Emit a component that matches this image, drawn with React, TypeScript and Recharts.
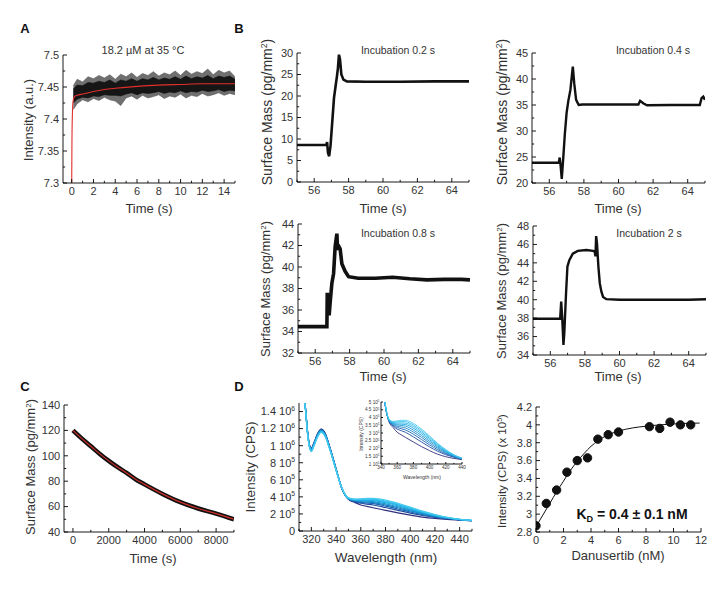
import React from "react";
import { ComposedChart, Line, Area, XAxis, YAxis } from "recharts";

// ── Panel A: stopped-flow trace ──────────────────────────────
const aTime = [0.15, 0.5, 1, 1.5, 2, 2.5, 3, 3.5, 4, 4.5, 5, 5.5, 6, 6.5, 7, 7.5, 8, 8.5, 9, 9.5, 10, 10.5, 11, 11.5, 12, 12.5, 13, 13.5, 14, 14.5, 15];
const aHigh = [7.452, 7.462, 7.458, 7.466, 7.463, 7.468, 7.464, 7.469, 7.462, 7.47, 7.466, 7.472, 7.465, 7.471, 7.468, 7.474, 7.467, 7.472, 7.469, 7.475, 7.468, 7.476, 7.47, 7.474, 7.471, 7.478, 7.469, 7.476, 7.472, 7.475, 7.466];
const aLow = [7.415, 7.424, 7.43, 7.427, 7.432, 7.429, 7.434, 7.43, 7.428, 7.421, 7.433, 7.436, 7.431, 7.437, 7.433, 7.435, 7.438, 7.432, 7.436, 7.434, 7.439, 7.433, 7.437, 7.435, 7.44, 7.436, 7.438, 7.441, 7.437, 7.44, 7.438];
const aCoreHigh = [7.447, 7.453, 7.452, 7.457, 7.456, 7.459, 7.457, 7.461, 7.456, 7.461, 7.459, 7.463, 7.459, 7.463, 7.461, 7.465, 7.461, 7.464, 7.462, 7.466, 7.462, 7.467, 7.463, 7.466, 7.464, 7.468, 7.463, 7.467, 7.465, 7.467, 7.462];
const aCoreLow = [7.425, 7.431, 7.434, 7.433, 7.436, 7.435, 7.438, 7.437, 7.437, 7.436, 7.439, 7.441, 7.438, 7.441, 7.44, 7.441, 7.443, 7.44, 7.442, 7.441, 7.444, 7.441, 7.443, 7.442, 7.445, 7.443, 7.444, 7.446, 7.443, 7.445, 7.444];
const aFitTime = [0, 0.02, 0.06, 0.12, 0.25, 0.5, 1, 2, 3, 4, 6, 8, 10, 12, 15];
const aFit = [7.3, 7.36, 7.405, 7.427, 7.435, 7.437, 7.439, 7.443, 7.446, 7.448, 7.451, 7.453, 7.454, 7.455, 7.455];
const aXMajor = [0, 2, 4, 6, 8, 10, 12, 14];
const aXMinor = [1, 3, 5, 7, 9, 11, 13, 15];
const aYMajor = [7.3, 7.35, 7.4, 7.45, 7.5];
const aYMinor = [7.325, 7.375, 7.425, 7.475];

// ── Panel B: surface mass traces ─────────────────────────────
const b02Time = [55, 56.7, 56.75, 56.8, 56.87, 56.95, 57.05, 57.15, 57.25, 57.32, 57.38, 57.44, 57.5, 57.58, 57.7, 57.9, 59, 61, 63, 65];
const b02Mass = [8.6, 8.6, 9.3, 6.8, 6.0, 8.5, 14, 19.5, 22.5, 24.5, 26.5, 29.6, 28.5, 25, 23.8, 23.4, 23.3, 23.3, 23.4, 23.4];
const b04Time = [55, 56.55, 56.6, 56.65, 56.72, 56.8, 56.9, 57.0, 57.1, 57.22, 57.3, 57.36, 57.44, 57.55, 57.7, 57.9, 59, 61.15, 61.25, 61.45, 61.65, 63, 64.7, 64.8, 64.9, 65];
const b04Mass = [23.9, 23.9, 24.9, 23.5, 20.8, 24.5, 29.5, 33.5, 35.8, 37.9, 40.5, 42.4, 39.2, 36, 35, 35.1, 35.1, 35.1, 35.8, 35.3, 34.95, 35, 35, 36.3, 36.6, 36];
const b08Time = [55, 56.68, 56.7, 56.76, 56.81, 56.88, 56.97, 57.07, 57.16, 57.26, 57.3, 57.38, 57.45, 57.55, 57.74, 57.94, 58.5, 59.5, 60.5, 61.5, 62.5, 63.5, 64.5, 65];
const b08Mass = [34.45, 34.45, 37.6, 36.3, 35.5, 36.9, 38.5, 39.4, 41.9, 43.1, 41.6, 41.9, 41.7, 40.3, 39.6, 39.1, 38.95, 38.95, 39.05, 38.9, 38.8, 38.85, 38.85, 38.8];
const b2Time = [55, 56.57, 56.63, 56.69, 56.76, 56.81, 56.91, 56.99, 57.1, 57.3, 57.59, 58.08, 58.47, 58.57, 58.61, 58.65, 58.7, 58.78, 58.86, 58.95, 59.05, 59.24, 60, 62, 64, 65];
const b2Mass = [37.93, 37.93, 39.8, 38, 35.1, 36.4, 40.7, 43.6, 44.3, 45, 45.3, 45.4, 45.3, 45.2, 44.7, 46.9, 46.1, 43.6, 41.8, 40.9, 40.3, 40.06, 40.0, 40.0, 40.0, 40.05];
const bXMajor = [56, 58, 60, 62, 64];
const bXMinor = [55, 57, 59, 61, 63, 65];

// ── Panel C: dissociation ────────────────────────────────────
const cTime = [0, 500, 1000, 1500, 2000, 2500, 3000, 3500, 4000, 5000, 6000, 7000, 8000, 9000];
const cMass = [120, 113.5, 107.5, 101.5, 96, 91, 86.5, 81.5, 77.5, 70, 63.5, 58.5, 54.5, 50];

// ── Panel D: emission spectra (x 10^5 CPS) ───────────────────
const dWave = [313, 315, 317, 318.5, 320, 322, 325, 328, 331, 335, 340, 345, 350, 355, 360, 365, 370, 380, 390, 400, 410, 420, 430, 440, 450];
const sp0 = [17, 14.8, 11.6, 10.1, 9.7, 10.3, 11.4, 11.95, 11.5, 9.8, 7.3, 4.85, 3.72, 3.35, 3.05, 2.88, 2.72, 2.42, 2.12, 1.86, 1.63, 1.47, 1.36, 1.28, 1.2];
const sp1 = [17, 14.8, 11.55, 10.05, 9.65, 10.25, 11.35, 11.9, 11.45, 9.75, 7.28, 4.86, 3.74, 3.45, 3.25, 3.15, 3.05, 2.75, 2.42, 2.1, 1.82, 1.6, 1.44, 1.31, 1.21];
const sp2 = [17, 14.75, 11.5, 10.0, 9.6, 10.2, 11.3, 11.85, 11.4, 9.72, 7.25, 4.87, 3.76, 3.5, 3.35, 3.28, 3.2, 2.92, 2.58, 2.23, 1.92, 1.66, 1.47, 1.32, 1.21];
const sp3 = [17, 14.7, 11.45, 9.95, 9.55, 10.15, 11.25, 11.8, 11.35, 9.68, 7.22, 4.88, 3.78, 3.55, 3.44, 3.39, 3.33, 3.06, 2.72, 2.35, 2.01, 1.72, 1.5, 1.33, 1.22];
const sp4 = [17, 14.7, 11.4, 9.9, 9.5, 10.1, 11.2, 11.75, 11.3, 9.65, 7.2, 4.89, 3.8, 3.6, 3.52, 3.49, 3.45, 3.19, 2.84, 2.46, 2.09, 1.77, 1.52, 1.34, 1.22];
const sp5 = [17, 14.65, 11.4, 9.9, 9.45, 10.05, 11.15, 11.7, 11.25, 9.62, 7.18, 4.9, 3.82, 3.63, 3.58, 3.57, 3.55, 3.31, 2.96, 2.56, 2.16, 1.81, 1.54, 1.35, 1.23];
const sp6 = [17, 14.65, 11.35, 9.85, 9.4, 10.0, 11.1, 11.65, 11.2, 9.58, 7.15, 4.92, 3.84, 3.67, 3.65, 3.65, 3.64, 3.42, 3.06, 2.65, 2.22, 1.85, 1.56, 1.36, 1.23];
const sp7 = [17, 14.6, 11.3, 9.8, 9.35, 9.95, 11.05, 11.6, 11.15, 9.55, 7.12, 4.93, 3.86, 3.71, 3.72, 3.74, 3.73, 3.52, 3.16, 2.73, 2.28, 1.89, 1.58, 1.37, 1.24];
const sp8 = [17, 14.6, 11.3, 9.8, 9.3, 9.9, 11.0, 11.55, 11.1, 9.5, 7.1, 4.95, 3.88, 3.75, 3.78, 3.82, 3.82, 3.62, 3.25, 2.8, 2.33, 1.93, 1.6, 1.38, 1.24];
const dSpectra = [sp0, sp1, sp2, sp3, sp4, sp5, sp6, sp7, sp8];
const dColors = ["#30307f", "#1f4d9e", "#1a66b3", "#177fc5", "#1795d3", "#1ca7de", "#27b5e6", "#35c0ec", "#46caf0"];

// ── Panel D: titration ───────────────────────────────────────
const bindConc = [0, 0.75, 1.5, 2.25, 3, 3.75, 4.5, 5.25, 6, 8.25, 9, 9.75, 10.5, 11.25];
const bindInt = [2.87, 3.12, 3.27, 3.47, 3.6, 3.63, 3.84, 3.89, 3.92, 3.98, 3.96, 4.03, 4.0, 4.0];
const fitConc = [0, 0.5, 1, 1.5, 2, 2.5, 3, 3.5, 4, 4.5, 5, 6, 7, 8, 9, 10, 11, 11.9];
const fitInt = [2.86, 2.99, 3.12, 3.25, 3.37, 3.49, 3.59, 3.68, 3.76, 3.82, 3.87, 3.93, 3.965, 3.985, 4.0, 4.01, 4.017, 4.02];

// ── helpers ──────────────────────────────────────────────────

const FONT = "'Liberation Sans', Arial, Helvetica, sans-serif";
const PAD = { l: 40, t: 8, r: 8, b: 22 };

const zip = (xs: number[], ys: number[]) => xs.map((x, i) => ({ x, y: ys[i] }));
const zipRange = (xs: number[], lo: number[], hi: number[]) => xs.map((x, i) => ({ x, y: [lo[i], hi[i]] }));

interface AxisSpec {
  domain: [number, number];
  major: number[];
  minor: number[];
  fmt?: (v: number, fs: number) => React.ReactNode;
}
interface Box { l: number; t: number; r: number; b: number }

const plain = (v: number) => String(+v.toFixed(3));

const sci = (mant: string, exp: number, fs: number) => (
  <>
    <tspan>{mant} 10</tspan>
    <tspan dy={-fs * 0.4} fontSize={fs * 0.62}>{exp}</tspan>
  </>
);

const XTick = (p: any) => {
  const { x, y, payload, spec, fs, len } = p;
  const v = payload.value;
  const major = spec.major.includes(v);
  const f = spec.fmt ?? plain;
  return (
    <g>
      <line x1={x} x2={x} y1={y} y2={y - (major ? len : len * 0.55)} stroke="#000" strokeWidth={0.9} />
      {major && (
        <text x={x} y={y + fs * 0.3} dy="0.8em" textAnchor="middle" fontSize={fs} fill="#333" fontFamily={FONT}>
          {f(v, fs)}
        </text>
      )}
    </g>
  );
};

const YTick = (p: any) => {
  const { x, y, payload, spec, fs, len } = p;
  const v = payload.value;
  const major = spec.major.includes(v);
  const f = spec.fmt ?? plain;
  return (
    <g>
      <line x1={x} x2={x + (major ? len : len * 0.55)} y1={y} y2={y} stroke="#000" strokeWidth={0.9} />
      {major && (
        <text x={x - fs * 0.35} y={y} dy="0.35em" textAnchor="end" fontSize={fs} fill="#333" fontFamily={FONT}>
          {f(v, fs)}
        </text>
      )}
    </g>
  );
};

const Frame: React.FC<{ box: Box; xs: AxisSpec; ys: AxisSpec; fs?: number; len?: number; children?: React.ReactNode }> = ({
  box, xs, ys, fs = 11, len = 4, children,
}) => {
  const w = box.r - box.l + PAD.l + PAD.r;
  const h = box.b - box.t + PAD.t + PAD.b;
  const xt = [...xs.major, ...xs.minor].sort((a, b) => a - b);
  const yt = [...ys.major, ...ys.minor].sort((a, b) => a - b);
  return (
    <div style={{ position: "absolute", left: box.l - PAD.l, top: box.t - PAD.t }}>
      <ComposedChart width={w} height={h} margin={{ top: PAD.t, right: PAD.r, left: 0, bottom: 0 }}>
        <XAxis
          type="number" dataKey="x" domain={xs.domain} ticks={xt} interval={0} allowDataOverflow
          height={PAD.b} tickSize={0} tickMargin={0} tickLine={false} axisLine={{ stroke: "#000", strokeWidth: 0.9 }}
          tick={(p: any) => <XTick {...p} spec={xs} fs={fs} len={len} />}
        />
        <YAxis
          type="number" dataKey="y" domain={ys.domain} ticks={yt} interval={0} allowDataOverflow
          width={PAD.l} tickSize={0} tickMargin={0} tickLine={false} axisLine={{ stroke: "#000", strokeWidth: 0.9 }}
          tick={(p: any) => <YTick {...p} spec={ys} fs={fs} len={len} />}
        />
        {children}
      </ComposedChart>
    </div>
  );
};

const Txt: React.FC<{ x: number; y: number; size?: number; rotate?: boolean; bold?: boolean; children: React.ReactNode }> = ({
  x, y, size = 13, rotate, bold, children,
}) => (
  <div
    style={{
      position: "absolute", left: x, top: y,
      transform: `translate(-50%, -50%)${rotate ? " rotate(-90deg)" : ""}`,
      fontSize: size, fontFamily: FONT, fontWeight: bold ? 700 : 400,
      color: bold ? "#111" : "#333", whiteSpace: "nowrap", lineHeight: 1,
    }}
  >
    {children}
  </div>
);

const Sup: React.FC<{ children: React.ReactNode }> = ({ children }) => (
  <span style={{ fontSize: "0.62em", position: "relative", top: "-0.55em" }}>{children}</span>
);

// ── axis specs ───────────────────────────────────────────────

const aX: AxisSpec = { domain: [-0.8, 15], major: aXMajor, minor: aXMinor };
const aY: AxisSpec = { domain: [7.3, 7.5], major: aYMajor, minor: aYMinor };
const bX: AxisSpec = { domain: [55, 65], major: bXMajor, minor: bXMinor };
const b02Y: AxisSpec = { domain: [0, 30], major: [0, 5, 10, 15, 20, 25, 30], minor: [2.5, 7.5, 12.5, 17.5, 22.5, 27.5] };
const b04Y: AxisSpec = { domain: [20, 45], major: [20, 25, 30, 35, 40, 45], minor: [22.5, 27.5, 32.5, 37.5, 42.5] };
const b08Y: AxisSpec = { domain: [32, 44], major: [32, 34, 36, 38, 40, 42, 44], minor: [33, 35, 37, 39, 41, 43] };
const b2Y: AxisSpec = { domain: [34, 48], major: [34, 36, 38, 40, 42, 44, 46, 48], minor: [35, 37, 39, 41, 43, 45, 47] };
const cX: AxisSpec = { domain: [-500, 9000], major: [0, 2000, 4000, 6000, 8000], minor: [1000, 3000, 5000, 7000, 9000] };
const cY: AxisSpec = { domain: [40, 140], major: [40, 60, 80, 100, 120, 140], minor: [50, 70, 90, 110, 130] };
const dX: AxisSpec = { domain: [310, 450], major: [320, 340, 360, 380, 400, 420, 440], minor: [310, 330, 350, 370, 390, 410, 430, 450] };
const dY: AxisSpec = {
  domain: [0, 15], major: [0, 2, 4, 6, 8, 10, 12, 14], minor: [1, 3, 5, 7, 9, 11, 13],
  fmt: (v, fs) => (v === 0 ? "0" : v < 10 ? sci(String(v), 5, fs) : sci(String(v / 10), 6, fs)),
};
const inX: AxisSpec = { domain: [340, 440], major: [340, 360, 380, 400, 420, 440], minor: [350, 370, 390, 410, 430] };
const inY: AxisSpec = {
  domain: [1, 5], major: [1, 1.5, 2, 2.5, 3, 3.5, 4, 4.5, 5], minor: [],
  fmt: (v, fs) => sci(String(v), 5, fs),
};
const kX: AxisSpec = { domain: [0, 12], major: [0, 2, 4, 6, 8, 10, 12], minor: [1, 3, 5, 7, 9, 11] };
const kY: AxisSpec = { domain: [2.8, 4.2], major: [2.8, 3, 3.2, 3.4, 3.6, 3.8, 4, 4.2], minor: [2.9, 3.1, 3.3, 3.5, 3.7, 3.9, 4.1] };

const trace = (t: number[], m: number[], w = 2.4) => (
  <Line data={zip(t, m)} dataKey="y" type="linear" stroke="#111" strokeWidth={w} dot={false} isAnimationActive={false} />
);

const SM = <>Surface Mass (pg/mm<Sup>2</Sup>)</>;

// ── App ──────────────────────────────────────────────────────

export default function App() {
  return (
    <div style={{ position: "absolute", left: 0, top: 0, width: 728, height: 596, background: "#fff", overflow: "hidden" }}>
      {/* A */}
      <Frame box={{ l: 63, t: 55, r: 235, b: 183 }} xs={aX} ys={aY}>
        <Area data={zipRange(aTime, aLow, aHigh)} dataKey="y" type="linear" stroke="#555" strokeWidth={0.6} fill="#707070" fillOpacity={1} isAnimationActive={false} />
        <Area data={zipRange(aTime, aCoreLow, aCoreHigh)} dataKey="y" type="linear" stroke="#111" strokeWidth={0.6} fill="#161616" fillOpacity={1} isAnimationActive={false} />
        <Line data={zip(aFitTime, aFit)} dataKey="y" type="monotone" stroke="#e0302a" strokeWidth={1.1} dot={false} isAnimationActive={false} />
      </Frame>

      {/* B */}
      <Frame box={{ l: 297, t: 53, r: 469, b: 182 }} xs={bX} ys={b02Y}>{trace(b02Time, b02Mass, 2.6)}</Frame>
      <Frame box={{ l: 532, t: 53, r: 705, b: 183 }} xs={bX} ys={b04Y}>{trace(b04Time, b04Mass, 2.4)}</Frame>
      <Frame box={{ l: 298, t: 224, r: 470, b: 353 }} xs={bX} ys={b08Y}>{trace(b08Time, b08Mass, 3.6)}</Frame>
      <Frame box={{ l: 533, t: 226, r: 706, b: 355 }} xs={bX} ys={b2Y}>{trace(b2Time, b2Mass, 2.4)}</Frame>

      {/* C */}
      <Frame box={{ l: 64, t: 405, r: 234, b: 532 }} xs={cX} ys={cY}>
        <Line data={zip(cTime, cMass)} dataKey="y" type="monotone" stroke="#111" strokeWidth={4.5} dot={false} isAnimationActive={false} />
        <Line data={zip(cTime, cMass)} dataKey="y" type="monotone" stroke="#c8302a" strokeWidth={1.2} dot={false} isAnimationActive={false} />
      </Frame>

      {/* D spectra */}
      <Frame box={{ l: 299, t: 403, r: 472, b: 531 }} xs={dX} ys={dY}>
        {dSpectra.map((s, i) => (
          <Line key={i} data={zip(dWave, s)} dataKey="y" type="monotone" stroke={dColors[i]} strokeWidth={1.2} dot={false} isAnimationActive={false} />
        ))}
      </Frame>
      <Frame box={{ l: 381, t: 402, r: 462, b: 464 }} xs={inX} ys={inY} fs={4.6} len={2}>
        {dSpectra.map((s, i) => (
          <Line key={i} data={zip(dWave, s)} dataKey="y" type="monotone" stroke={dColors[i]} strokeWidth={0.9} dot={false} isAnimationActive={false} />
        ))}
      </Frame>

      {/* D titration */}
      <Frame box={{ l: 536, t: 407, r: 701, b: 532 }} xs={kX} ys={kY}>
        <Line data={zip(fitConc, fitInt)} dataKey="y" type="monotone" stroke="#111" strokeWidth={1} dot={false} isAnimationActive={false} />
        <Line data={zip(bindConc, bindInt)} dataKey="y" stroke="none" dot={{ r: 4.2, fill: "#111", stroke: "#111" }} isAnimationActive={false} />
      </Frame>

      {/* panel letters */}
      <Txt x={25} y={28} bold size={13}>A</Txt>
      <Txt x={239} y={28} bold size={13}>B</Txt>
      <Txt x={25} y={386} bold size={13}>C</Txt>
      <Txt x={239} y={386} bold size={13}>D</Txt>

      {/* titles */}
      <Txt x={143} y={50} size={11}>18.2 µM at 35 °C</Txt>
      <Txt x={398} y={50} size={10.5}>Incubation 0.2 s</Txt>
      <Txt x={653} y={50} size={10.5}>Incubation 0.4 s</Txt>
      <Txt x={398} y={233} size={10.5}>Incubation 0.8 s</Txt>
      <Txt x={649} y={233} size={10.5}>Incubation 2 s</Txt>

      {/* axis titles */}
      <Txt x={28} y={120} rotate>Intensity (a.u.)</Txt>
      <Txt x={149} y={208}>Time (s)</Txt>
      <Txt x={267} y={112} rotate size={14}>{SM}</Txt>
      <Txt x={383} y={208}>Time (s)</Txt>
      <Txt x={502} y={112} rotate size={14}>{SM}</Txt>
      <Txt x={618} y={208}>Time (s)</Txt>
      <Txt x={266} y={289} rotate>{SM}</Txt>
      <Txt x={383} y={376}>Time (s)</Txt>
      <Txt x={502} y={291} rotate>{SM}</Txt>
      <Txt x={618} y={376}>Time (s)</Txt>
      <Txt x={31} y={467} rotate>{SM}</Txt>
      <Txt x={153} y={558}>Time (s)</Txt>
      <Txt x={251} y={467} rotate size={13.5}>Intensity (CPS)</Txt>
      <Txt x={386} y={558} size={13.5}>Wavelength (nm)</Txt>
      <Txt x={361} y={434} rotate size={5}>Intensity (CPS)</Txt>
      <Txt x={422} y={477} size={5}>Wavelength (nm)</Txt>
      <Txt x={503} y={471} rotate size={11.5}>Intensity (CPS) (x 10<Sup>5</Sup>)</Txt>
      <Txt x={618} y={555}>Danusertib (nM)</Txt>
      <Txt x={632} y={514} bold size={14}>
        K<span style={{ fontSize: "0.65em", position: "relative", top: "0.35em" }}>D</span> = 0.4 ± 0.1 nM
      </Txt>
    </div>
  );
}
